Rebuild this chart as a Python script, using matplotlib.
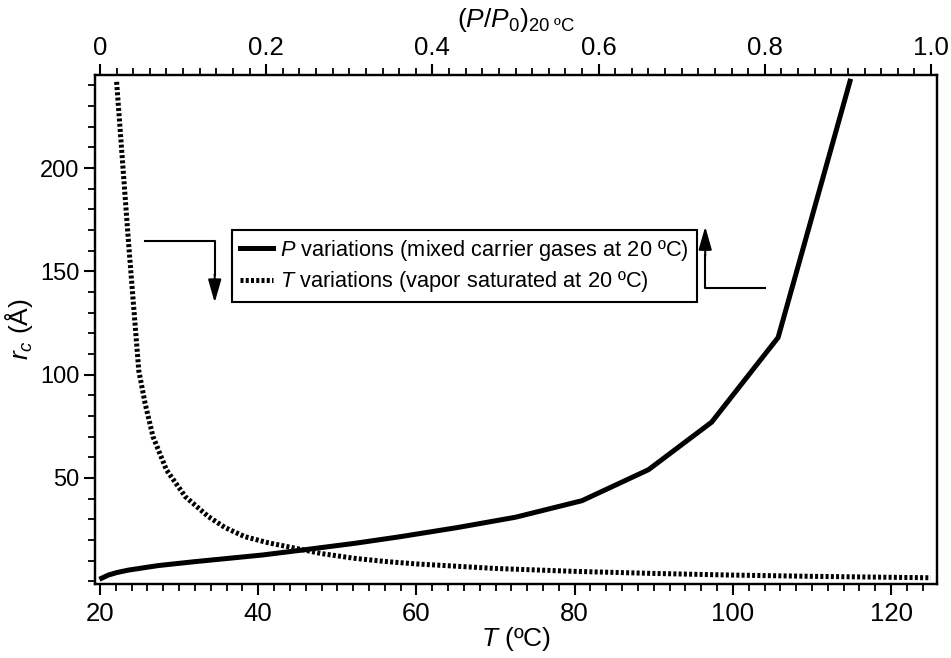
import matplotlib
matplotlib.use("Agg")
import matplotlib.pyplot as plt
from matplotlib.ticker import MultipleLocator
from matplotlib.lines import Line2D

plt.rcParams['font.family'] = ['Liberation Sans', 'DejaVu Sans']
plt.rcParams['mathtext.fontset'] = 'custom'
plt.rcParams['mathtext.rm'] = 'Liberation Sans'
plt.rcParams['mathtext.it'] = 'Liberation Sans:italic'

# P variations: relative pressure (top axis) vs critical radius
p_rel = [0.002, 0.01, 0.02, 0.034, 0.07, 0.114, 0.195, 0.243, 0.307, 0.36, 0.43, 0.50,
         0.58, 0.66, 0.736, 0.816, 0.9025]
r_p = [1.5, 3.0, 4.2, 5.4, 7.6, 9.5, 12.7, 15.1, 18.4, 21.5, 26.0, 31.0,
       39.0, 54.0, 77.0, 118.0, 242.0]

# T variations: temperature (bottom axis) vs critical radius
temp = [22.1, 23.6, 24.9, 25.7, 26.7, 28.4, 30.8, 33.7, 35.8, 38.3, 41.3, 44.7, 48.0,
        52.2, 56.0, 60, 70, 80, 90, 100, 110, 125]
r_t = [241.7, 164.3, 102.0, 86.1, 70.0, 53.9, 40.9, 31.3, 26.0, 21.6, 18.6, 16.0, 13.4,
       11.1, 9.6, 8.4, 6.2, 4.8, 3.8, 3.0, 2.4, 1.7]

x_ticks = [20, 40, 60, 80, 100, 120]
top_ticks = [0, 0.2, 0.4, 0.6, 0.8, 1.0]
top_labels = ['0', '0.2', '0.4', '0.6', '0.8', '1.0']
y_ticks = [50, 100, 150, 200]

dotted = (0, (0.6, 0.45))

fig = plt.figure(figsize=(9.51, 6.58), dpi=100)
ax = fig.add_axes([0.0999, 0.1125, 0.8854, 0.7735])
ax2 = ax.twiny()

ax.plot(temp, r_t, color='black', lw=3.6, linestyle=dotted, dash_capstyle='butt')
ax2.plot(p_rel, r_p, color='black', lw=3.6, solid_joinstyle='miter')

ax.set_xlim(19.37, 125.8)
ax2.set_xlim(-0.006, 1.0072)
ax.set_ylim(-1.3, 245)

ax.set_xticks(x_ticks)
ax.xaxis.set_minor_locator(MultipleLocator(2))
ax.set_yticks(y_ticks)
ax.yaxis.set_minor_locator(MultipleLocator(10))
ax2.set_xticks(top_ticks)
ax2.set_xticklabels(top_labels)
ax2.xaxis.set_minor_locator(MultipleLocator(0.02))

for a in (ax, ax2):
    for s in a.spines.values():
        s.set_linewidth(1.6)
    a.tick_params(which='major', direction='out', length=8, width=1.5)
    a.tick_params(which='minor', direction='out', length=5, width=1.3)
ax.tick_params(which='both', right=False, top=False)
ax2.tick_params(which='both', left=False, right=False, labelleft=False, labelright=False)
ax.tick_params(axis='y', labelsize=17, pad=3)
ax.tick_params(axis='x', labelsize=18.5, pad=5)
ax2.tick_params(axis='x', labelsize=18.5, pad=3)

ax.set_xlabel('$T$ (ºC)', fontsize=19, labelpad=-1)
ax.set_ylabel('$r_c$ (Å)', fontsize=19, labelpad=4)
ax2.set_xlabel('$(P/P_0)_{\\mathrm{20\\ ºC}}$', fontsize=19, labelpad=6)

handles = [
    Line2D([], [], color='black', lw=3.6),
    Line2D([], [], color='black', lw=3.6, linestyle=dotted, dash_capstyle='butt'),
]
labels = ['$P$ variations (mixed carrier gases at 20 ºC)',
          '$T$ variations (vapor saturated at 20 ºC)']
leg = ax.legend(handles, labels, loc='upper left', bbox_to_anchor=(0.163, 0.695),
                borderaxespad=0, handlelength=1.5, handletextpad=0.35,
                labelspacing=0.3, borderpad=0.35, fancybox=False, framealpha=1,
                prop={'size': 15.7})
leg.get_frame().set_edgecolor('black')
leg.get_frame().set_linewidth(1.5)

# arrows pointing to the axis each curve belongs to
arrow = dict(arrowstyle='-|>,head_length=1.4,head_width=0.4', color='black', lw=1.5)
ax.plot([25.7, 34.5, 34.5], [164.7, 164.7, 148], color='black', lw=1.5)
ax.annotate('', xy=(34.5, 133.5), xytext=(34.5, 150), arrowprops=arrow)
ax.plot([104.1, 96.5, 96.5], [142, 142, 158], color='black', lw=1.5)
ax.annotate('', xy=(96.5, 173), xytext=(96.5, 156), arrowprops=arrow)

fig.savefig('out.png', dpi=100)
